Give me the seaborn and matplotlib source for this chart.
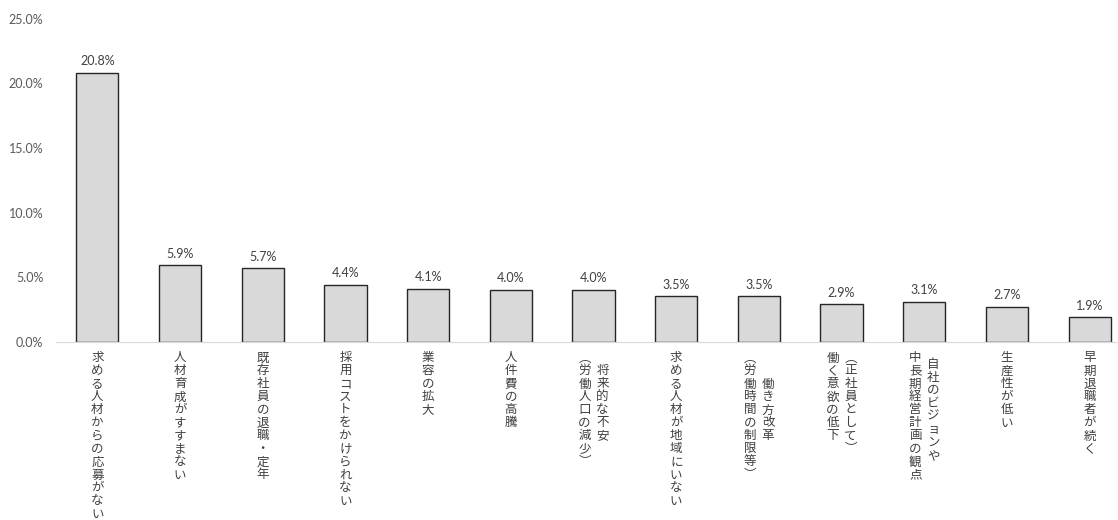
import numpy as np
import matplotlib
matplotlib.use("Agg")
import matplotlib.pyplot as plt
import seaborn as sns
from matplotlib.ticker import FuncFormatter

# Reasons and their share of responses (%)
categories = [
    "求める人材からの応募がない",
    "人材育成がすすまない",
    "既存社員の退職・定年",
    "採用コストをかけられない",
    "業容の拡大",
    "人件費の高騰",
    "将来的な不安（労働人口の減少）",
    "求める人材が地域にいない",
    "働き方改革（労働時間の制限等）",
    "（正社員として）働く意欲の低下",
    "自社のビジョンや中長期経営計画の観点",
    "生産性が低い",
    "早期退職者が続く",
]
# Vertical label columns, first column drawn on the right
label_lines = [
    ["求める人材からの応募がない"],
    ["人材育成がすすまない"],
    ["既存社員の退職・定年"],
    ["採用コストをかけられない"],
    ["業容の拡大"],
    ["人件費の高騰"],
    ["将来的な不安", "（労働人口の減少）"],
    ["求める人材が地域にいない"],
    ["働き方改革", "（労働時間の制限等）"],
    ["（正社員として）", "働く意欲の低下"],
    ["自社のビジョンや", "中長期経営計画の観点"],
    ["生産性が低い"],
    ["早期退職者が続く"],
]
values = [20.8, 5.9, 5.7, 4.4, 4.1, 4.0, 4.0, 3.5, 3.5, 2.9, 3.1, 2.7, 1.9]
y_ticks = [0, 5, 10, 15, 20, 25]

sns.set_theme(style="white")
plt.rcParams["font.family"] = ["Lato", "Noto Sans CJK JP", "DejaVu Sans"]

W, H = 1118, 520
fig = plt.figure(figsize=(W / 100, H / 100), dpi=100)
ax = fig.add_axes([56 / W, 178.3 / H, 1075 / W, 323 / H])

sns.barplot(x=categories, y=values, ax=ax, color="#d9d9d9",
            edgecolor="#262626", linewidth=1.0, width=0.51, saturation=1)

ax.set_xlim(-0.5, len(categories) - 0.5)
ax.set_ylim(0, 25)
ax.set_yticks(y_ticks)
ax.yaxis.set_major_formatter(FuncFormatter(lambda v, _: f"{v:.1f}%"))
ax.tick_params(axis="y", length=0, pad=9, labelsize=9, labelcolor="#595959")
ax.set_xlabel("")
ax.set_ylabel("")

# category axis: light baseline with boundary ticks
ax.set_xticks(range(len(categories)))
ax.set_xticklabels([""] * len(categories))
ax.set_xticks(np.arange(-0.5, len(categories), 1), minor=True)
ax.tick_params(axis="x", which="major", length=0)
ax.tick_params(axis="x", which="minor", length=5, width=0.8,
               color="#d9d9d9", direction="out")
for side in ["left", "right", "top"]:
    ax.spines[side].set_visible(False)
ax.spines["bottom"].set_color("#d9d9d9")
ax.spines["bottom"].set_linewidth(0.8)
ax.grid(False)

# value labels above bars
for i, v in enumerate(values):
    ax.annotate(f"{v:.1f}%", xy=(i, v), xytext=(0, 4), textcoords="offset points",
                ha="center", va="bottom", fontsize=9, color="#404040")

# vertical (top-to-bottom) category labels
def vertical(s):
    s = s.replace("（", "\ufe35").replace("）", "\ufe36")
    return "\n".join(s)

label_kw = dict(ha="center", va="top", fontsize=9, color="#404040",
                family=["Noto Sans CJK JP", "DejaVu Sans"], linespacing=1.0,
                xycoords=ax.get_xaxis_transform(), textcoords="offset points",
                annotation_clip=False)

col_gap = 6.5  # points between column centre and category centre
fig.canvas.draw()
renderer = fig.canvas.get_renderer()
for i, cols in enumerate(label_lines):
    n = len(cols)
    longest = max(len(c) for c in cols)
    # measure per-character step from a probe
    for k, col in enumerate(cols):
        dx = 0 if n == 1 else (col_gap if k == 0 else -col_gap)
        t = ax.annotate(vertical(col), xy=(i, 0), xytext=(dx, -7), **label_kw)
        if len(col) < longest:
            bb = t.get_window_extent(renderer)
            step = bb.height / len(col)
            shift = max(longest - len(col) - 1, 0) / 2 * step * 72 / fig.dpi
            t.set_position((dx, -7 - shift))

fig.savefig("out.png", dpi=100)
